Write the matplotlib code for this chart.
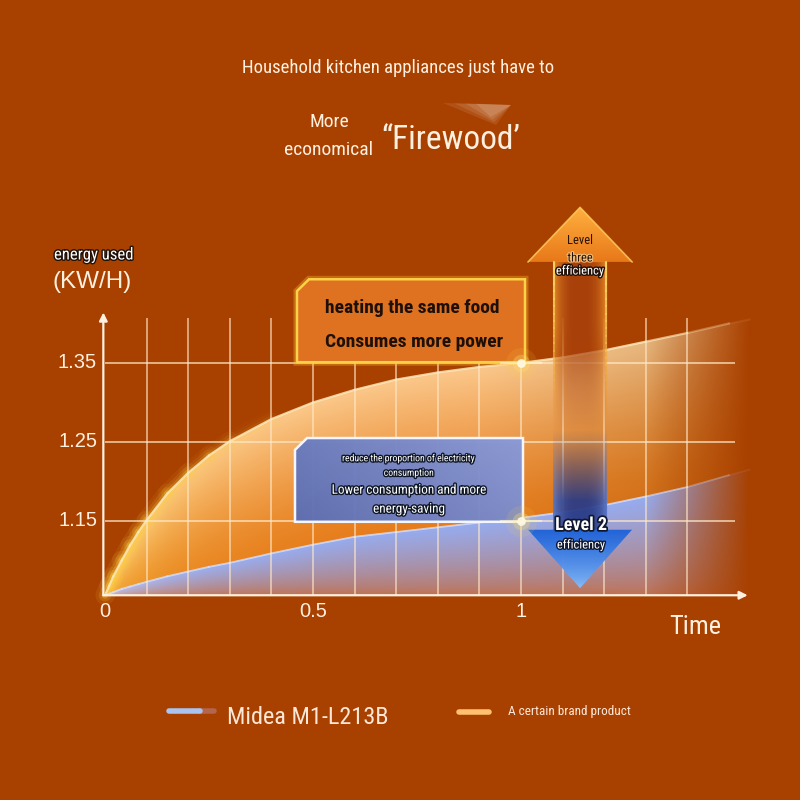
import numpy as np
import matplotlib.pyplot as plt
from matplotlib import font_manager
from matplotlib.patches import Polygon
from matplotlib.collections import LineCollection
from matplotlib.colors import to_rgb
import matplotlib.patheffects as pe

# values
time = [0, 0.01, 0.02, 0.04, 0.06, 0.08, 0.1, 0.15, 0.2, 0.25, 0.3, 0.4, 0.5,
        0.6, 0.7, 0.8, 0.9, 1.0, 1.1, 1.2, 1.3, 1.4, 1.5, 1.55]
brand = [1.056, 1.068, 1.080, 1.100, 1.119, 1.136, 1.151, 1.185, 1.211, 1.233, 1.251, 1.279, 1.300,
         1.316, 1.329, 1.338, 1.345, 1.350, 1.357, 1.366, 1.377, 1.388, 1.400, 1.405]
midea = [1.056, 1.058, 1.060, 1.064, 1.067, 1.070, 1.073, 1.080, 1.086, 1.092, 1.097, 1.109, 1.120,
         1.130, 1.136, 1.142, 1.148, 1.154, 1.161, 1.170, 1.181, 1.193, 1.208, 1.215]
y_ticks = [1.15, 1.25, 1.35]
y_tick_labels = ['1.15', '1.25', '1.35']
x_ticks = [0, 0.5, 1]
x_tick_labels = ['0', '0.5', '1']
grid_x = [0.1, 0.2, 0.3, 0.4, 0.5, 0.6, 0.7, 0.8, 0.9, 1.0, 1.1, 1.2, 1.3, 1.4]
series_names = ['Midea M1-L213B', 'A certain brand product']

names = {f.name for f in font_manager.fontManager.ttflist}
cond = next((n for n in ['Roboto Condensed', 'Liberation Sans Narrow', 'Open Sans Condensed']
             if n in names), 'DejaVu Sans')
arial = 'Liberation Sans' if 'Liberation Sans' in names else 'DejaVu Sans'

BG = '#A84000'
CREAM = '#FFF0E0'
fig = plt.figure(figsize=(8, 8), dpi=100, facecolor=BG)
ax = fig.add_axes([0, 0, 1, 1])
# data window chosen so the plot sits where it does in the picture
ax.set_xlim(-105 / 416, 695 / 416)
ax.set_ylim(1.15 - 279 / 790, 1.15 + 521 / 790)
ax.axis('off')
base = midea[0]


def fx(px):
    return px / 800


def fy(py):
    return 1 - py / 800


def poly(pts, **kw):
    return Polygon(pts, closed=True, transform=ax.transData, **kw)


def lerp(c0, c1, t):
    c0 = np.array(to_rgb(c0)); c1 = np.array(to_rgb(c1))
    return c0 + (c1 - c0) * t[..., None]


# ---- orange region (brand) ----
xs = np.linspace(0, 1.6, 700)
ys = np.linspace(1.05, 1.42, 400)
XX, YY = np.meshgrid(xs, ys)
top = np.interp(XX, time, brand)
bot = np.interp(XX, time, midea)
f = np.clip((YY - bot) / (top - bot + 1e-6), 0, 1)
col = lerp('#E67C1C', '#FBC88C', f ** 1.3)
glow = np.exp(-XX / 0.18)[..., None]
col = col * (1 - glow * 0.55) + np.array(to_rgb('#FFD250')) * glow * 0.55
col = col * (1 - 0.10 * np.clip((XX - 0.9) / 0.5, 0, 1))[..., None]
alpha = np.clip((1.55 - XX) / 0.25, 0, 1)
img = np.dstack([col, alpha])
clip_o = poly(list(zip(time, brand)) + list(zip(time[::-1], midea[::-1])))
im = ax.imshow(img, extent=[0, 1.6, 1.05, 1.42], origin='lower', aspect='auto',
               interpolation='bilinear', zorder=2)
im.set_clip_path(clip_o)

# ---- blue region (Midea) ----
ys2 = np.linspace(base, 1.22, 200)
XX, YY = np.meshgrid(xs, ys2)
mtop = np.interp(XX, time, midea)
f2 = np.clip((YY - base) / (mtop - base + 1e-6), 0, 1)
col2 = lerp('#C0704E', '#96ACF0', f2 ** 0.7)
near0 = np.exp(-XX / 0.12)[..., None]
col2 = col2 * (1 - near0 * 0.5) + np.array(to_rgb('#E8E0F8')) * near0 * 0.5
alpha2 = np.clip((1.55 - XX) / 0.25, 0, 1)
img2 = np.dstack([col2, alpha2])
clip_b = poly(list(zip(time, midea)) + [(time[-1], base), (0, base)])
im2 = ax.imshow(img2, extent=[0, 1.6, base, 1.22], origin='lower', aspect='auto',
                interpolation='bilinear', zorder=2)
im2.set_clip_path(clip_b)


# edge highlights; alpha per segment
def edge(xv, yv, color, lw, alphas, z):
    pts = np.column_stack([xv, yv])
    segs = np.stack([pts[:-1], pts[1:]], axis=1)
    rgba = [(*to_rgb(color), a) for a in alphas]
    ax.add_collection(LineCollection(segs, colors=rgba, linewidths=lw, zorder=z,
                                     capstyle='round'))


mid_t = (np.array(time[:-1]) + np.array(time[1:])) / 2
left_fade = np.clip((0.45 - mid_t) / 0.45, 0, 1)
right_fade = np.clip((1.55 - mid_t) / 0.25, 0, 1)
for lw, a in [(14, 0.10), (9, 0.18), (5, 0.30)]:
    edge(time, brand, '#FFD040', lw, a * left_fade, 2.5)
edge(time, brand, '#FFE8B8', 1.6, 0.85 * right_fade, 3)
edge(time, midea, '#D8E2FF', 1.3, 0.8 * right_fade, 3)

# ---- grid and axes ----
ax.vlines(grid_x, base, 1.407, colors='#FFE8C8', lw=1.2, alpha=0.7, zorder=4)
ax.hlines(y_ticks, 0, 1.515, colors='#FFE8C8', lw=1.2, alpha=0.8, zorder=4)
ax.annotate('', xy=(-0.004, 1.414), xytext=(-0.004, base),
            arrowprops=dict(arrowstyle='-|>', color=CREAM, lw=1.6, mutation_scale=12,
                            shrinkA=0, shrinkB=0), zorder=5)
ax.annotate('', xy=(1.545, base), xytext=(-0.004, base),
            arrowprops=dict(arrowstyle='-|>', color=CREAM, lw=1.6, mutation_scale=12,
                            shrinkA=0, shrinkB=0), zorder=5)
for v, lab in zip(y_ticks, y_tick_labels):
    ax.text(-0.019, v, lab, ha='right', va='center', color=CREAM, fontsize=14.5,
            family=arial, zorder=5)
for v, lab in zip(x_ticks, x_tick_labels):
    ax.text(v, 1.035, lab, ha='center', va='center', color=CREAM, fontsize=14.5,
            family=arial, zorder=5)

# ---- up arrow (level three) ----
up = poly([(1.077, 1.25), (1.077, 1.478), (1.017, 1.478), (1.142, 1.547),
           (1.267, 1.478), (1.207, 1.478), (1.207, 1.25)])
ax_ = np.linspace(1.01, 1.28, 200)
ay = np.linspace(1.24, 1.55, 300)
AX, AY = np.meshgrid(ax_, ay)
prof = np.abs(AX - 1.142) / 0.065
shaft = lerp('#A8400C', '#F0962C', np.clip(prof, 0, 1) ** 3)
head = lerp('#E87818', '#FFB040', np.clip((AY - 1.478) / 0.07, 0, 1))
colu = np.where((AY > 1.478)[..., None], head, shaft)
au = np.where(AY > 1.478, 1.0, 0.92 * np.clip((AY - 1.25) / 0.15, 0, 1))
imu = ax.imshow(np.dstack([colu, au]), extent=[1.01, 1.28, 1.24, 1.55], origin='lower',
                aspect='auto', interpolation='bilinear', zorder=6)
imu.set_clip_path(up)
yy = np.linspace(1.478, 1.30, 20)
for xe in (1.080, 1.204):
    edge(np.full(20, xe), yy, '#FFD866', 1.5, np.linspace(0.9, 0.0, 19), 6.5)
ax.plot([1.017, 1.142, 1.267], [1.478, 1.547, 1.478], color='#FFD060', lw=1.2,
        alpha=0.8, zorder=6.5)

# ---- down arrow (level 2) ----
dn = poly([(1.077, 1.265), (1.077, 1.139), (1.017, 1.139), (1.142, 1.065),
           (1.267, 1.139), (1.207, 1.139), (1.207, 1.265)])
dy = np.linspace(1.06, 1.27, 300)
DX, DY = np.meshgrid(ax_, dy)
prof = np.abs(DX - 1.142) / 0.065
shaft = lerp('#2A3C86', '#5C78C8', np.clip(prof, 0, 1) ** 3)
head = lerp('#8CC4FF', '#1E62D8', np.clip((DY - 1.065) / 0.074, 0, 1) ** 0.7)
cold = np.where((DY < 1.139)[..., None], head, shaft)
ad = np.where(DY < 1.139, 0.97, 0.95 * np.clip((1.265 - DY) / 0.09, 0, 1))
imd = ax.imshow(np.dstack([cold, ad]), extent=[1.01, 1.28, 1.06, 1.27], origin='lower',
                aspect='auto', interpolation='bilinear', zorder=6)
imd.set_clip_path(dn)

# ---- text boxes ----
L, R, B, T = 0.4615, 1.0096, 1.351, 1.456
box1 = [(L, B), (L, T - 0.015), (L + 0.029, T), (R, T), (R, B)]
ax.add_patch(poly(box1, facecolor='none', edgecolor='#FFC030', lw=5, alpha=0.35, zorder=7))
ax.add_patch(poly(box1, facecolor='#DE7220', edgecolor='#FFD048', lw=1.8, zorder=7))
ax.text(0.529, 1.420, 'heating the same food', ha='left', va='center', fontsize=14,
        family=cond, weight='bold', color='#1E1008', zorder=8)
ax.text(0.529, 1.377, 'Consumes more power', ha='left', va='center', fontsize=14,
        family=cond, weight='bold', color='#1E1008', zorder=8)

L, R, B, T = 0.4567, 1.0048, 1.149, 1.255
box2 = [(L, B), (L, T - 0.015), (L + 0.029, T), (R, T), (R, B)]
bx = np.linspace(L, R, 200)
by = np.linspace(B, T, 100)
BX, BY = np.meshgrid(bx, by)
cb = lerp('#5C6EB4', '#8A9AD8', np.clip((BX - L) / (R - L) * 0.7 + (BY - B) / (T - B) * 0.3, 0, 1))
imb = ax.imshow(np.dstack([cb, np.full(BX.shape, 0.97)]), extent=[L, R, B, T],
                origin='lower', aspect='auto', interpolation='bilinear', zorder=7)
imb.set_clip_path(poly(box2))
ax.add_patch(poly(box2, facecolor='none', edgecolor='#F4F6FF', lw=1.8, zorder=7.5))
outline = [pe.withStroke(linewidth=2, foreground='#101828')]
bcx = (L + R) / 2
ax.text(bcx, 1.230, 'reduce the proportion of electricity', ha='center', va='center',
        fontsize=7, family=cond, color='white', path_effects=outline, zorder=8)
ax.text(bcx, 1.211, 'consumption', ha='center', va='center', fontsize=7, family=cond,
        color='white', path_effects=outline, zorder=8)
ax.text(bcx, 1.189, 'Lower consumption and more', ha='center', va='center', fontsize=9.5,
        family=cond, color='white', path_effects=outline, zorder=8)
ax.text(bcx, 1.165, 'energy-saving', ha='center', va='center', fontsize=9.5,
        family=cond, color='white', path_effects=outline, zorder=8)

# flares at box corners
for yv in (1.35, 1.15):
    for s, a, c in [(500, 0.12, '#FFD040'), (160, 0.3, '#FFE070'), (40, 0.9, '#FFFBE8')]:
        ax.scatter([1.0], [yv], s=s, color=c, alpha=a, lw=0, zorder=9)
    ax.hlines(yv, 0.95, 1.05, colors='#FFF8D0', lw=1.5, alpha=0.6, zorder=9)

# arrow labels
dark_out = [pe.withStroke(linewidth=2, foreground='#201008')]
fig.text(fx(580), fy(241), 'Level', ha='center', va='center', fontsize=9, family=cond,
         color='#2A1204', zorder=10)
fig.text(fx(580), fy(258), 'three', ha='center', va='center', fontsize=9, family=cond,
         color='#2A1204', path_effects=[pe.withStroke(linewidth=1.5, foreground='#F0C080')],
         zorder=10)
fig.text(fx(580), fy(271), 'efficiency', ha='center', va='center', fontsize=9, family=cond,
         color='white', path_effects=dark_out, zorder=10)
fig.text(fx(581), fy(525), 'Level 2', ha='center', va='center', fontsize=13, family=cond,
         weight='bold', color='white',
         path_effects=[pe.withStroke(linewidth=2.5, foreground='#101830')], zorder=10)
fig.text(fx(581), fy(545), 'efficiency', ha='center', va='center', fontsize=9, family=cond,
         color='white', path_effects=[pe.withStroke(linewidth=2, foreground='#101830')],
         zorder=10)

# ---- titles and axis names ----
fig.text(fx(398), fy(68), 'Household kitchen appliances just have to', ha='center',
         va='center', fontsize=13.5, family=cond, color=CREAM)
fig.text(fx(329), fy(122), 'More', ha='center', va='center', fontsize=14, family=cond,
         color=CREAM)
fig.text(fx(329), fy(150), 'economical', ha='center', va='center', fontsize=14,
         family=cond, color=CREAM)
fig.text(fx(381), fy(140), '\u201cFirewood\u2019', ha='left', va='center', fontsize=24,
         family=cond, color=CREAM)
# soft light beam over the title
for k, a in enumerate([0.10, 0.10, 0.12, 0.14]):
    s = k * 0.22
    pts = [(fx(443 + 50 * s), fy(103 + 1 * s)), (fx(511), fy(105)),
           (fx(496 - 8 * s), fy(125 - 12 * s))]
    fig.patches.append(Polygon(pts, closed=True, transform=fig.transFigure,
                               facecolor='#FFF0E0', alpha=a, lw=0))
fig.text(fx(54), fy(255), 'energy used', ha='left', va='center', fontsize=12, family=cond,
         color='white', path_effects=dark_out)
fig.text(fx(53), fy(282), '(KW/H)', ha='left', va='center', fontsize=17.5, family=arial,
         color=CREAM)
fig.text(fx(669), fy(627), 'Time', ha='left', va='center', fontsize=19, family=cond,
         color=CREAM)

# ---- legend ----
fig.lines.append(plt.Line2D([fx(200), fx(214)], [fy(711), fy(711)], transform=fig.transFigure,
                            color='#B87060', lw=4, solid_capstyle='round', alpha=0.8))
fig.lines.append(plt.Line2D([fx(169), fx(200)], [fy(711), fy(711)], transform=fig.transFigure,
                            color='#AAC4F2', lw=4, solid_capstyle='round'))
fig.lines.append(plt.Line2D([fx(459), fx(489)], [fy(712), fy(712)], transform=fig.transFigure,
                            color='#FFC070', lw=4, solid_capstyle='round'))
fig.text(fx(227), fy(717), series_names[0], ha='left', va='center', fontsize=17.5,
         family=cond, color='#FFE8D8')
fig.text(fx(508), fy(712), series_names[1], ha='left', va='center', fontsize=9.5,
         family=cond, color='#FFE8D8')

fig.savefig('out.png', dpi=100, facecolor=BG)
